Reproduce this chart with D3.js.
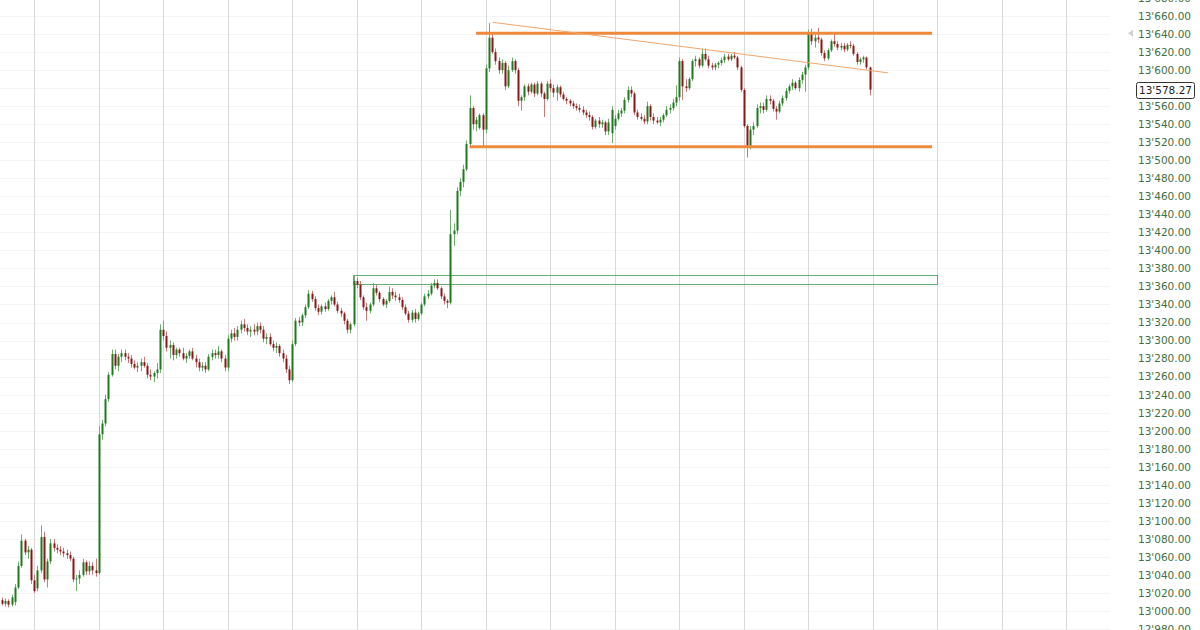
<!DOCTYPE html>
<html><head><meta charset="utf-8">
<script src="https://cdn.jsdelivr.net/npm/d3@7"></script>
<style>html,body{margin:0;padding:0;background:#fff;}svg{display:block;}</style>
</head><body>
<svg id="chart" width="1200" height="630"></svg>
<script>
// ---- data ----
const opens = [
13012,13008,13011,13007,13010,13026,13050,13078,13065,13068,
13034,13025,13045,13082,13035,13055,13075,13070,13068,13066,
13064,13062,13058,13035,13036,13040,13054,13044,13050,13045,
13042,13196,13208,13235,13262,13285,13272,13282,13286,13282,
13280,13274,13270,13272,13276,13272,13262,13260,13264,13268,
13312,13305,13292,13295,13284,13290,13286,13280,13283,13288,
13280,13276,13270,13272,13268,13282,13286,13284,13288,13280,
13270,13302,13308,13304,13312,13318,13314,13310,13312,13310,
13316,13312,13302,13304,13296,13292,13294,13286,13280,13268,
13256,13296,13322,13320,13328,13337,13352,13346,13336,13332,
13338,13335,13344,13348,13340,13333,13330,13322,13312,13318,
13366,13362,13348,13337,13333,13340,13358,13353,13346,13340,
13344,13354,13350,13348,13345,13337,13330,13323,13331,13324,
13330,13340,13349,13352,13361,13364,13358,13349,13344,13342,
13418,13422,13466,13476,13490,13518,13558,13540,13536,13550,
13534,13602,13636,13620,13610,13600,13608,13582,13600,13610,
13600,13566,13570,13582,13576,13584,13574,13585,13574,13568,
13585,13580,13575,13581,13573,13568,13566,13563,13560,13558,
13556,13553,13550,13548,13537,13544,13540,13542,13532,13530,
13538,13546,13552,13555,13567,13578,13574,13553,13548,13546,
13543,13560,13548,13544,13542,13545,13550,13556,13558,13564,
13570,13610,13582,13580,13590,13610,13612,13605,13618,13612,
13605,13603,13606,13608,13611,13615,13612,13616,13614,13603,
13578,13538,13516,13534,13538,13558,13560,13556,13568,13566,
13557,13554,13563,13569,13577,13582,13586,13580,13589,13595,
13603,13640,13632,13636,13634,13619,13613,13622,13632,13629,
13625,13627,13623,13628,13627,13618,13609,13612,13614,13603
];
const highs = [
13015,13014,13013,13018,13030,13055,13085,13080,13072,13070,
13040,13050,13095,13088,13058,13080,13080,13074,13072,13070,
13068,13066,13060,13040,13045,13058,13056,13055,13054,13058,
13205,13212,13240,13265,13290,13290,13285,13290,13290,13286,
13284,13278,13276,13280,13282,13275,13268,13266,13275,13318,
13322,13310,13300,13298,13292,13292,13292,13286,13290,13292,
13284,13280,13276,13276,13285,13290,13290,13294,13290,13284,
13306,13312,13314,13316,13322,13324,13318,13316,13318,13320,
13320,13316,13308,13308,13300,13298,13296,13290,13284,13272,
13300,13325,13326,13330,13340,13356,13355,13349,13340,13340,
13342,13346,13350,13354,13343,13336,13332,13324,13320,13372,
13370,13366,13350,13342,13342,13364,13362,13355,13348,13346,
13360,13358,13354,13352,13348,13340,13333,13334,13335,13332,
13342,13352,13356,13364,13368,13368,13360,13352,13346,13445,
13430,13470,13480,13495,13522,13572,13560,13548,13552,13552,
13606,13652,13640,13624,13614,13612,13610,13605,13614,13612,
13602,13572,13584,13585,13586,13586,13588,13587,13576,13588,
13590,13584,13584,13583,13576,13570,13568,13566,13563,13562,
13560,13556,13554,13550,13546,13548,13545,13544,13546,13560,
13550,13556,13558,13570,13582,13582,13576,13556,13552,13550,
13565,13562,13552,13548,13548,13552,13560,13562,13568,13583,
13614,13612,13590,13592,13612,13616,13614,13624,13624,13616,
13608,13608,13610,13614,13618,13618,13618,13620,13616,13605,
13580,13540,13538,13542,13562,13564,13564,13572,13572,13568,
13560,13566,13572,13580,13584,13590,13588,13592,13598,13606,
13645,13646,13640,13647,13636,13622,13624,13634,13640,13632,
13630,13630,13630,13632,13629,13620,13614,13616,13615,13604
];
const lows = [
13006,13005,13004,13005,13006,13024,13048,13062,13058,13030,
13020,13022,13042,13032,13026,13052,13066,13064,13062,13060,
13058,13055,13032,13022,13030,13038,13040,13040,13040,13038,
13040,13190,13205,13232,13260,13268,13266,13276,13278,13275,
13270,13268,13265,13266,13270,13258,13256,13254,13258,13264,
13300,13288,13280,13278,13280,13282,13278,13275,13280,13278,
13270,13266,13266,13264,13266,13278,13280,13280,13276,13266,
13266,13298,13300,13300,13308,13310,13306,13304,13306,13306,
13308,13298,13296,13294,13288,13286,13282,13276,13264,13252,
13254,13294,13316,13316,13325,13335,13343,13333,13328,13329,
13332,13333,13340,13338,13330,13326,13318,13308,13308,13316,
13358,13345,13334,13322,13330,13338,13350,13343,13338,13336,
13342,13346,13344,13342,13334,13328,13320,13320,13320,13322,
13328,13338,13346,13350,13358,13356,13346,13340,13336,13340,
13405,13418,13460,13470,13488,13515,13534,13532,13534,13516,
13530,13598,13618,13606,13596,13596,13578,13580,13598,13596,
13560,13555,13566,13572,13574,13570,13572,13570,13548,13566,
13576,13570,13566,13570,13566,13562,13560,13557,13555,13553,
13550,13547,13544,13534,13535,13536,13536,13528,13528,13519,
13534,13544,13548,13552,13564,13570,13550,13545,13544,13540,
13540,13544,13540,13540,13538,13542,13548,13552,13555,13560,
13566,13567,13576,13578,13588,13604,13602,13603,13610,13602,
13600,13600,13602,13605,13608,13610,13610,13612,13600,13576,
13536,13503,13512,13528,13536,13552,13552,13554,13562,13554,
13545,13552,13560,13566,13574,13578,13578,13576,13585,13576,
13600,13628,13625,13630,13616,13610,13611,13620,13626,13622,
13622,13620,13621,13624,13616,13606,13606,13608,13601,13572
];
const closes = [
13008,13011,13007,13015,13026,13050,13078,13065,13068,13034,
13022,13045,13082,13035,13055,13075,13070,13068,13066,13064,
13062,13058,13035,13036,13040,13054,13044,13050,13045,13042,
13196,13208,13235,13262,13285,13272,13282,13286,13282,13280,
13274,13270,13272,13276,13272,13262,13260,13264,13268,13312,
13305,13292,13295,13284,13290,13286,13280,13283,13288,13280,
13276,13270,13272,13268,13282,13286,13284,13288,13280,13270,
13302,13308,13304,13312,13318,13314,13310,13312,13310,13316,
13312,13302,13304,13296,13292,13294,13286,13280,13268,13256,
13296,13322,13320,13328,13337,13352,13346,13336,13332,13338,
13335,13344,13348,13340,13333,13330,13322,13312,13318,13366,
13362,13348,13337,13333,13340,13358,13353,13346,13340,13344,
13354,13350,13348,13345,13337,13330,13323,13331,13324,13330,
13340,13349,13352,13361,13364,13358,13349,13344,13342,13418,
13422,13466,13476,13490,13518,13558,13540,13545,13550,13534,
13602,13636,13620,13610,13600,13608,13582,13600,13610,13600,
13566,13570,13582,13576,13584,13574,13585,13574,13568,13585,
13580,13575,13581,13573,13568,13566,13563,13560,13558,13556,
13553,13550,13548,13537,13544,13540,13542,13532,13542,13556,
13546,13552,13555,13567,13578,13574,13553,13548,13546,13543,
13560,13548,13544,13542,13545,13550,13556,13558,13564,13570,
13610,13582,13580,13590,13610,13612,13605,13618,13612,13605,
13603,13606,13608,13611,13615,13612,13616,13614,13603,13578,
13538,13516,13534,13538,13558,13560,13556,13568,13566,13557,
13554,13563,13569,13577,13582,13586,13580,13589,13595,13603,
13640,13632,13636,13634,13619,13613,13622,13632,13629,13625,
13627,13623,13628,13627,13618,13609,13612,13614,13603,13578.27
];
const tickValues = [12980,13000,13020,13040,13060,13080,13100,13120,13140,13160,13180,
13200,13220,13240,13260,13280,13300,13320,13340,13360,13380,13400,13420,13440,13460,
13480,13500,13520,13540,13560,13580,13600,13620,13640,13660,13680];
const gridIndex = [10,30,50,70,90,110,130,150,170,190,210,230,250,270,290,310,330];
// annotations (candle index, price)
const resistance = {from:147, to:288.4, price:13641};
const support = {from:145, to:288.4, price:13515};
const trendLine = [{i:152.2, p:13653}, {i:274.7, p:13597}];
const rangeBox = {from:108.8, to:289.9, top:13373, bottom:13363};
const lastPrice = 13578.27;
const markerPrice = 13641;

// ---- drawing ----
const svg = d3.select("#chart");
const x = d3.scaleLinear().domain([0, 20]).range([2, 66.5]);
const y = d3.scaleLinear().domain([12980, 13680]).range([629, -2]);
const fmt = d3.formatLocale({decimal:".", thousands:"'", grouping:[3], currency:["",""]}).format(",.2f");

// horizontal faint grid
svg.append("g").selectAll("line").data(tickValues).join("line")
  .attr("x1", 0).attr("x2", 1110)
  .attr("y1", d => Math.round(y(d)) + 0.5).attr("y2", d => Math.round(y(d)) + 0.5)
  .attr("stroke", "#f4f4f4").attr("stroke-width", 1);

// vertical grid
svg.append("g").selectAll("line").data(gridIndex).join("line")
  .attr("x1", d => Math.round(x(d)) + 0.5).attr("x2", d => Math.round(x(d)) + 0.5)
  .attr("y1", 0).attr("y2", 630)
  .attr("stroke", "#d9d9d9").attr("stroke-width", 1);

const data = closes.map((c, i) => ({i, o: opens[i], h: highs[i], l: lows[i], c}));

// green range rectangle
svg.append("rect")
  .attr("x", Math.round(x(rangeBox.from)) + 0.5)
  .attr("y", Math.round(y(rangeBox.top)) + 0.5)
  .attr("width", Math.round(x(rangeBox.to) - x(rangeBox.from)))
  .attr("height", Math.round(y(rangeBox.bottom) - y(rangeBox.top)))
  .attr("fill", "none").attr("stroke", "#62ad72").attr("stroke-width", 1);

// candles
const cg = svg.append("g");
cg.selectAll("line").data(data).join("line")
  .attr("x1", d => Math.round(x(d.i)) + 0.5).attr("x2", d => Math.round(x(d.i)) + 0.5)
  .attr("y1", d => y(d.h)).attr("y2", d => y(d.l))
  .attr("stroke", d => d.c >= d.o ? "#6fae6f" : "#c47a7a").attr("stroke-width", 1);
cg.selectAll("rect").data(data).join("rect")
  .attr("x", d => Math.round(x(d.i)) - 0.5)
  .attr("width", 2)
  .attr("y", d => y(Math.max(d.o, d.c)))
  .attr("height", d => Math.max(1, Math.abs(y(d.o) - y(d.c))))
  .attr("fill", d => d.c >= d.o ? "#1f7a1f" : "#8a1616");

// orange lines
[resistance, support].forEach(s => {
  svg.append("line")
    .attr("x1", x(s.from)).attr("x2", x(s.to))
    .attr("y1", y(s.price)).attr("y2", y(s.price))
    .attr("stroke", "#ef8a3c").attr("stroke-width", 3);
});
svg.append("line")
  .attr("x1", x(trendLine[0].i)).attr("y1", y(trendLine[0].p))
  .attr("x2", x(trendLine[1].i)).attr("y2", y(trendLine[1].p))
  .attr("stroke", "#f0a56c").attr("stroke-width", 1);

// y axis labels
const axis = d3.axisRight(y).tickValues(tickValues).tickFormat(fmt).tickSize(0).tickPadding(0);
const ag = svg.append("g").attr("transform", "translate(1138,0)").call(axis);
ag.select(".domain").remove();
ag.selectAll("text")
  .attr("font-family", "'DejaVu Sans', Verdana, sans-serif")
  .attr("font-size", "10.5px")
  .attr("fill", "#3f6f3f");
ag.selectAll(".tick").filter(d => Math.abs(d - 13580) < 1).remove();

// marker triangle
const my = y(markerPrice);
svg.append("path")
  .attr("d", `M1128,${my} L1133,${my - 3.5} L1133,${my + 3.5} Z`)
  .attr("fill", "#d0d0d0");

// last price box
const ly = y(lastPrice);
svg.append("rect").attr("x", 1136.5).attr("y", Math.round(ly) - 7.5)
  .attr("width", 58).attr("height", 16).attr("rx", 2)
  .attr("fill", "#fff").attr("stroke", "#333").attr("stroke-width", 1);
svg.append("text").attr("x", 1139).attr("y", ly + 1)
  .attr("dominant-baseline", "middle")
  .attr("font-family", "'DejaVu Sans', Verdana, sans-serif").attr("font-size", "10.5px")
  .attr("fill", "#222").text(fmt(lastPrice));
</script>
</body></html>
